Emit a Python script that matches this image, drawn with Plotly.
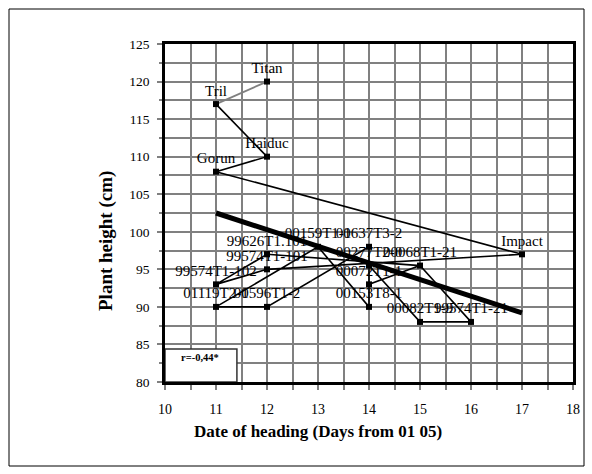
import plotly.graph_objects as go

# ---- data ----
names = ["Titan", "Tril", "Haiduc", "Gorun", "Impact",
         "99574T1-101", "99574T1-102", "99626T1.101", "00068T1-21",
         "99574T1-21", "00082T1-9", "00277T2-0", "00153T8-1",
         "00159T1-1", "01119T2-1", "00596T1-2", "00637T3-2", "00072T1-1"]
days = [12, 11, 12, 11, 17,
        12, 11, 12, 15,
        16, 15, 14, 14,
        13, 11, 12, 14, 14]
heights = [120, 117, 110, 108, 97,
           95, 93, 97, 95.5,
           88, 88, 95.5, 90,
           98, 90, 90, 98, 93]

# order in which the points are joined by the line (as in the source sheet)
grey_path = ["Titan", "Tril"]
black_path = ["Tril", "Haiduc", "Gorun", "Impact", "99574T1-101", "99574T1-102",
              "99626T1.101", "00068T1-21", "99574T1-21", "00082T1-9", "00277T2-0",
              "00153T8-1", "00159T1-1", "01119T2-1", "00596T1-2", "00637T3-2",
              "00072T1-1", "00068T1-21"]

trend_x = [11, 17]
trend_y = [102.5, 89.2]
r_text = "r=-0,44*"

x_title = "Date of heading (Days from 01 05)"
y_title = "Plant height (cm)"

# ---- figure ----
idx = {n: i for i, n in enumerate(names)}
serif = "Liberation Serif, Times New Roman, serif"

fig = go.Figure()
fig.add_trace(go.Scatter(
    x=[days[idx[n]] for n in grey_path], y=[heights[idx[n]] for n in grey_path],
    mode="lines", line=dict(color="#808080", width=1.8), hoverinfo="skip"))
fig.add_trace(go.Scatter(
    x=[days[idx[n]] for n in black_path], y=[heights[idx[n]] for n in black_path],
    mode="lines", line=dict(color="black", width=1.6), hoverinfo="skip"))
fig.add_trace(go.Scatter(
    x=trend_x, y=trend_y, mode="lines",
    line=dict(color="black", width=5), hoverinfo="skip"))
fig.add_trace(go.Scatter(
    x=days, y=heights, mode="markers+text", text=names,
    textposition="top center",
    textfont=dict(family=serif, size=15, color="black"),
    marker=dict(symbol="square", size=6, color="black")))

# r box
fig.add_shape(type="rect", xref="x", yref="y", x0=10, x1=11.41, y0=80, y1=84.4,
              line=dict(color="#333333", width=1.5), fillcolor="white", layer="above")
fig.add_annotation(x=10.69, y=83.2, xref="x", yref="y", text="<b>" + r_text + "</b>",
                   showarrow=False, xanchor="center", yanchor="middle",
                   font=dict(family=serif, size=10.5, color="black"))

# axis titles
fig.add_annotation(x=(318 - 165) / 408, y=(382 - 431) / 338, xref="paper", yref="paper",
                   text="<b>" + x_title + "</b>", showarrow=False,
                   xanchor="center", yanchor="middle",
                   font=dict(family=serif, size=17, color="black"))
fig.add_annotation(x=(106 - 165) / 408, y=(382 - 241) / 338, xref="paper", yref="paper",
                   text="<b>" + y_title + "</b>", showarrow=False, textangle=-90,
                   xanchor="center", yanchor="middle",
                   font=dict(family=serif, size=19, color="black"))

# outer frame
fig.add_shape(type="rect", xref="paper", yref="paper",
              x0=(9 - 165) / 408, x1=(584 - 165) / 408,
              y0=(382 - 466) / 338, y1=(382 - 9) / 338,
              line=dict(color="black", width=1))

grid = "#808080"
fig.update_xaxes(range=[10, 18], dtick=1, tick0=10, showgrid=True, gridcolor=grid, gridwidth=2,
                 zeroline=False, showline=True, linecolor="black", linewidth=2.5, mirror=True,
                 ticks="outside", ticklen=5, tickcolor=grid, tickwidth=2,
                 tickfont=dict(family=serif, size=14, color="black"), ticklabelstandoff=7,
                 minor=dict(dtick=0.5, showgrid=True, gridcolor=grid, gridwidth=2,
                            ticks="outside", ticklen=5, tickcolor=grid, tickwidth=2))
fig.update_yaxes(range=[80, 125], dtick=5, tick0=80, showgrid=True, gridcolor=grid, gridwidth=2,
                 zeroline=False, showline=True, linecolor="black", linewidth=2.5, mirror=True,
                 ticks="outside", ticklen=5, tickcolor=grid, tickwidth=2,
                 tickfont=dict(family=serif, size=13.5, color="black"), ticklabelstandoff=5,
                 minor=dict(dtick=2.5, showgrid=True, gridcolor=grid, gridwidth=2,
                            ticks="outside", ticklen=3, tickcolor=grid, tickwidth=2))

fig.update_layout(width=592, height=474, margin=dict(l=165, r=19, t=44, b=92),
                  paper_bgcolor="white", plot_bgcolor="white", showlegend=False)

fig.write_html("out.html")
